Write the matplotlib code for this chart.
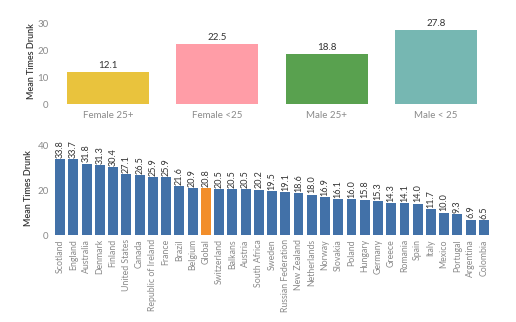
import matplotlib
matplotlib.use("Agg")
import matplotlib.pyplot as plt
import numpy as np

plt.rcParams['font.family'] = ['Lato', 'DejaVu Sans']

groups = ["Female 25+", "Female <25", "Male 25+", "Male < 25"]
group_vals = [12.1, 22.5, 18.8, 27.8]
group_colors = ["#E9C33D", "#FF9DA7", "#59A14F", "#76B7B2"]

countries = ["Scotland", "England", "Australia", "Denmark", "Finland", "United States",
             "Canada", "Republic of Ireland", "France", "Brazil", "Belgium", "Global",
             "Switzerland", "Balkans", "Austria", "South Africa", "Sweden",
             "Russian Federation", "New Zealand", "Netherlands", "Norway", "Slovakia",
             "Poland", "Hungary", "Germany", "Greece", "Romania", "Spain", "Italy",
             "Mexico", "Portugal", "Argentina", "Colombia"]
country_vals = [33.8, 33.7, 31.8, 31.3, 30.4, 27.1, 26.5, 25.9, 25.9, 21.6, 20.9, 20.8,
                20.5, 20.5, 20.5, 20.2, 19.5, 19.1, 18.6, 18.0, 16.9, 16.1, 16.0, 15.8,
                15.3, 14.3, 14.1, 14.0, 11.7, 10.0, 9.3, 6.9, 6.5]

blue = "#4271A8"
orange = "#F28E2B"
tick_gray = "#8a8a8a"
label_dark = "#333333"

fig = plt.figure(figsize=(5.16, 3.22), dpi=100)

# top chart: by age / gender
ax1 = fig.add_axes([0.1037, 0.677, 0.847, 0.266])
x1 = np.arange(len(groups))
ax1.bar(x1, group_vals, width=0.75, color=group_colors)
for xi, v in zip(x1, group_vals):
    ax1.text(xi, v + 0.5, f"{v:.1f}", ha="center", va="bottom", fontsize=7, color=label_dark)
ax1.set_xlim(-0.5, len(groups) - 0.5)
ax1.set_ylim(0, 32)
ax1.set_yticks([0, 10, 20, 30])
ax1.set_xticks(x1)
ax1.set_xticklabels(groups)
ax1.set_ylabel("Mean Times Drunk", fontsize=6.5, color=label_dark, labelpad=1,
               fontweight="semibold")

# bottom chart: by country
ax2 = fig.add_axes([0.1037, 0.270, 0.847, 0.2935])
x2 = np.arange(len(countries))
cols = [orange if c == "Global" else blue for c in countries]
ax2.bar(x2, country_vals, width=0.75, color=cols)
for xi, v in zip(x2, country_vals):
    ax2.text(xi, v + 0.5, f"{v:.1f}", ha="center", va="bottom", rotation=90,
             fontsize=6.5, color=label_dark, clip_on=False)
ax2.set_xlim(-0.5, len(countries) - 0.5)
ax2.set_ylim(0, 42)
ax2.set_yticks([0, 20, 40])
ax2.set_xticks(x2)
ax2.set_xticklabels(countries, rotation=90)
ax2.set_ylabel("Mean Times Drunk", fontsize=6.5, color=label_dark, labelpad=3,
               fontweight="semibold")

for ax in (ax1, ax2):
    for s in ax.spines.values():
        s.set_visible(False)
    ax.tick_params(axis="both", length=0, colors=tick_gray, labelsize=7)
    ax.tick_params(axis="x", pad=5)
ax2.tick_params(axis="x", labelsize=6.3, pad=3)

fig.savefig("out.png", dpi=100)
